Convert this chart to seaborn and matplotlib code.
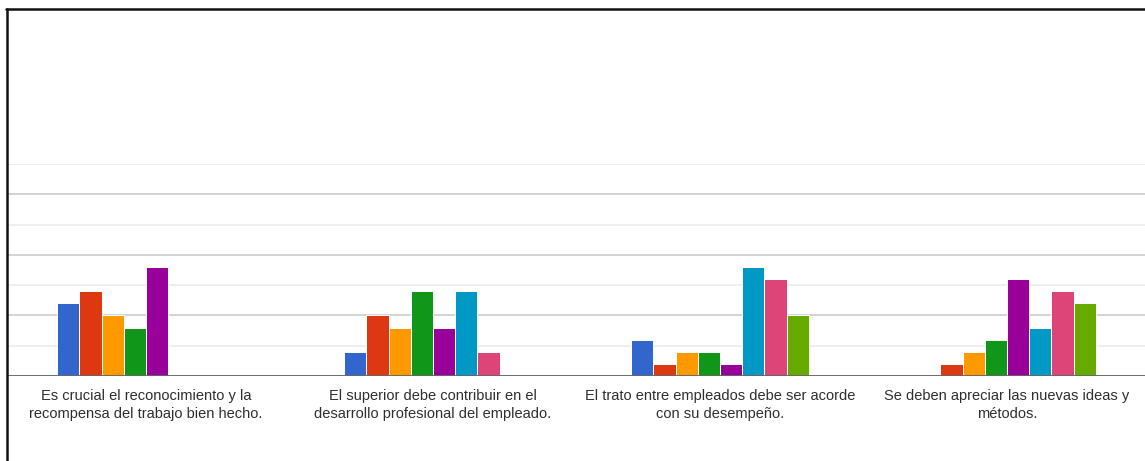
import matplotlib
matplotlib.use("Agg")
import matplotlib.pyplot as plt
from matplotlib.lines import Line2D
import pandas as pd
import seaborn as sns

# Statements (x-axis categories)
categorias = [
    "Es crucial el reconocimiento y la\nrecompensa del trabajo bien hecho.",
    "El superior debe contribuir en el\ndesarrollo profesional del empleado.",
    "El trato entre empleados debe ser acorde\ncon su desempeño.",
    "Se deben apreciar las nuevas ideas y\nmétodos.",
]

# Answer levels (one bar per level in each group)
niveles = ["1", "2", "3", "4", "5", "6", "7", "8"]

# Number of responses per level, in category order
nivel_1 = [6, 2, 3, 0]
nivel_2 = [7, 5, 1, 1]
nivel_3 = [5, 4, 2, 2]
nivel_4 = [4, 7, 2, 3]
nivel_5 = [9, 4, 1, 8]
nivel_6 = [0, 7, 9, 4]
nivel_7 = [0, 2, 8, 7]
nivel_8 = [0, 0, 5, 6]

colores = ["#3366cc", "#dc3912", "#ff9900", "#109618",
           "#990099", "#0099c6", "#dd4477", "#66aa00"]

series = [nivel_1, nivel_2, nivel_3, nivel_4, nivel_5, nivel_6, nivel_7, nivel_8]
filas = []
for nivel, valores in zip(niveles, series):
    for cat, v in zip(categorias, valores):
        filas.append({"categoria": cat, "nivel": nivel, "respuestas": v})
df = pd.DataFrame(filas)

sns.set_theme(style="white")
plt.rcParams["font.family"] = ["Liberation Sans", "DejaVu Sans"]

W, H = 1145, 461
fig = plt.figure(figsize=(W / 100, H / 100), dpi=100)
fig.patch.set_facecolor("white")

# plot area: baseline at y=376px, top gridline at y=164px
ax = fig.add_axes([8 / W, (H - 376) / H, (W - 8) / W, (376 - 164) / H])

sns.barplot(data=df, x="categoria", y="respuestas", hue="nivel",
            order=categorias, hue_order=niveles, palette=colores,
            saturation=1, width=0.62, edgecolor="white", linewidth=0.7,
            legend=False, ax=ax, zorder=2)

ax.set_xlim((8 - 146) / 287, (W - 146) / 287)
ax.set_ylim(0, 17.5)
ax.set_yticks([0, 5, 10, 15])
ax.set_yticks([2.5, 7.5, 12.5, 17.5], minor=True)
ax.yaxis.grid(True, which="major", color="#cccccc", linewidth=1.2, zorder=0)
ax.yaxis.grid(True, which="minor", color="#ebebeb", linewidth=1.2, zorder=0)
ax.set_axisbelow(True)
ax.set_yticklabels([])
ax.tick_params(axis="both", which="both", length=0)
ax.set_xticks(range(len(categorias)))
ax.set_xticklabels(categorias, linespacing=1.42, ha="center")
ax.tick_params(axis="x", pad=9, labelsize=10.5, labelcolor="#2e2e2e")
for s in ax.spines.values():
    s.set_visible(False)
ax.axhline(0, color="#666666", linewidth=1.3, zorder=4)
ax.set_xlabel("")
ax.set_ylabel("")

# outer frame lines (top and left)
fig.add_artist(Line2D([5.5 / W, 1], [1 - 9 / H, 1 - 9 / H], color="#111111", linewidth=1.8))
fig.add_artist(Line2D([6.5 / W, 6.5 / W], [0, 1 - 9 / H], color="#111111", linewidth=1.8))

fig.savefig("out.png", dpi=100, facecolor="white")
